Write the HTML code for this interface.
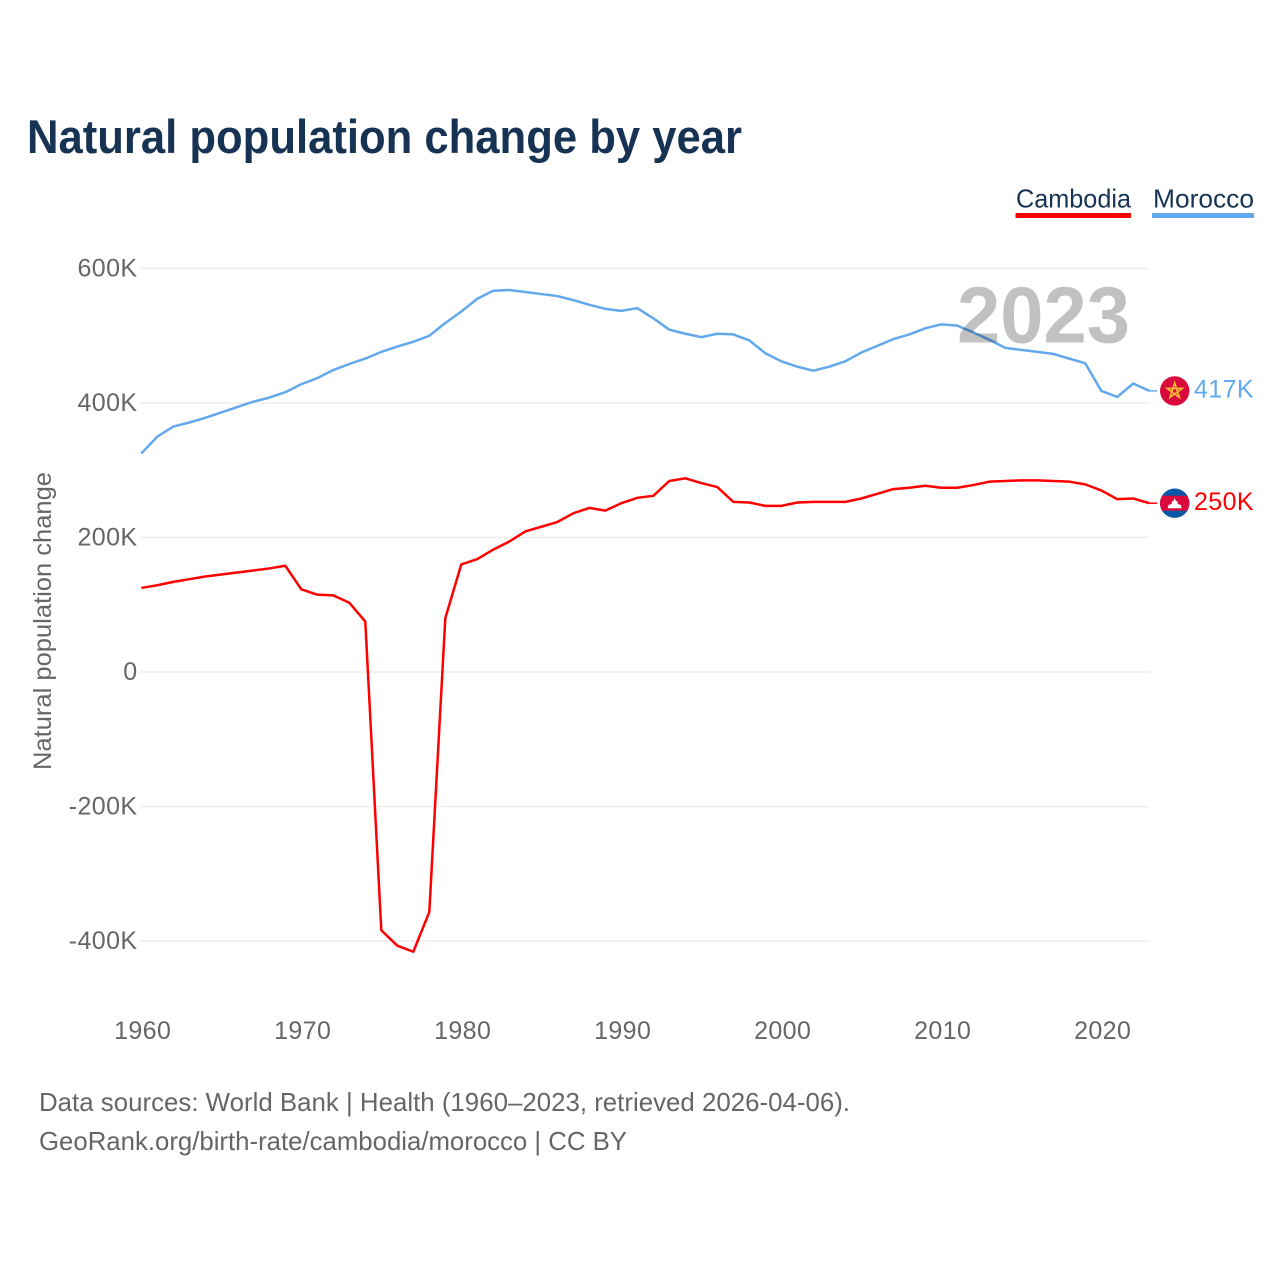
<!DOCTYPE html>
<html lang="en">
<head>
<meta charset="utf-8">
<title>Natural population change by year</title>
<style>
  html, body { margin: 0; padding: 0; background: #fff; }
  svg { display: block; font-family: "Liberation Sans", sans-serif; }
  .tick { font-size: 25px; fill: #666; letter-spacing: 0.4px; }
</style>
</head>
<body>
<svg id="chart" xmlns="http://www.w3.org/2000/svg" width="1280" height="1280" viewBox="0 0 1280 1280">
  <rect width="1280" height="1280" fill="#ffffff"/>
  <text x="27" y="153" font-size="47" font-weight="700" fill="#173353" textLength="715" lengthAdjust="spacingAndGlyphs">Natural population change by year</text>

  <g>
    <text x="1016" y="207.5" font-size="26" fill="#173353" textLength="115" lengthAdjust="spacingAndGlyphs">Cambodia</text>
    <rect x="1015.5" y="213" width="115.5" height="5" fill="#ff0000"/>
  </g>
  <g>
    <text x="1153" y="207.5" font-size="26" fill="#173353" textLength="101" lengthAdjust="spacingAndGlyphs">Morocco</text>
    <rect x="1152" y="213" width="102" height="5" fill="#62a8ec"/>
  </g>

  <text transform="translate(51,621) rotate(-90)" text-anchor="middle" font-size="25" fill="#666" textLength="298" lengthAdjust="spacingAndGlyphs">Natural population change</text>

  <g id="grid"></g>
  <g id="yTicks"></g>
  <g id="xTicks"></g>
  <g id="lines"></g>

  <text x="957" y="342.5" font-size="80" font-weight="700" fill="#000000" fill-opacity="0.243" textLength="173" lengthAdjust="spacingAndGlyphs">2023</text>

  <g id="ends"></g>

  <text x="39" y="1111" font-size="26" fill="#666" textLength="811" lengthAdjust="spacingAndGlyphs">Data sources: World Bank | Health (1960–2023, retrieved 2026-04-06).</text>
  <text x="39" y="1150" font-size="26" fill="#666" textLength="588" lengthAdjust="spacingAndGlyphs">GeoRank.org/birth-rate/cambodia/morocco | CC BY</text>
</svg>

<script>
const startYear = 1960;
const yTickValues = [600, 400, 200, 0, -200, -400];
const yTickLabels = ['600K', '400K', '200K', '0', '-200K', '-400K'];
const xTickYears = [1960, 1970, 1980, 1990, 2000, 2010, 2020];
const xTickLabels = ['1960', '1970', '1980', '1990', '2000', '2010', '2020'];

// Natural population change, thousands, 1960-2023
const cambodiaValues = [125,129,134,138,142,145,148,151,154,158,
  123,115,114,103,75,-384,-407,-416,-357,80,
  160,168,182,194,209,216,223,236,244,240,
  251,259,262,284,288,281,275,253,252,247,
  247,252,253,253,253,258,265,272,274,277,
  274,274,278,283,284,285,285,284,283,279,
  270,257,258,251];
const moroccoValues = [325,350,365,371,378,386,394,402,408,416,
  428,437,449,458,466,476,484,491,500,519,
  536,555,567,568,565,562,559,553,546,540,
  537,541,526,509,503,498,503,502,493,474,
  462,454,448,454,462,475,485,495,502,511,
  517,515,505,494,482,479,476,473,466,459,
  418,409,429,418];
const cambodiaEndLabel = '250K';
const moroccoEndLabel = '417K';

const NS = 'http://www.w3.org/2000/svg';
function xScale(year) { return 141.3 + (year - 1960) * 16; }
function yScale(v) { return 672 - v * 0.6725; }
function make(tag, parent) {
  const el = document.createElementNS(NS, tag);
  parent.appendChild(el);
  return el;
}
function linePoints(values) {
  return values.map(function (v, i) {
    return xScale(startYear + i).toFixed(2) + ',' + yScale(v).toFixed(2);
  }).join(' ');
}

const gridG = document.getElementById('grid');
const yG = document.getElementById('yTicks');
yTickValues.forEach(function (v, i) {
  const gl = make('line', gridG);
  
  
  gl.setAttribute('x1', 141);
  gl.setAttribute('x2', 1149.5);
  gl.setAttribute('y1', yScale(v));
  gl.setAttribute('y2', yScale(v));
  gl.setAttribute('stroke', '#eeeeee');
  gl.setAttribute('stroke-width', 1.4);

  const t = make('text', yG);
  
  
  t.setAttribute('class', 'tick');
  t.setAttribute('x', 137.5);
  t.setAttribute('y', yScale(v) + 8);
  t.setAttribute('text-anchor', 'end');
  t.textContent = yTickLabels[i];
});

const xG = document.getElementById('xTicks');
xTickYears.forEach(function (yr, i) {
  const t = make('text', xG);
  
  
  t.setAttribute('class', 'tick');
  t.setAttribute('x', xScale(yr) + 1.4);
  t.setAttribute('y', 1039);
  t.setAttribute('text-anchor', 'middle');
  t.textContent = xTickLabels[i];
});

const linesG = document.getElementById('lines');

const moroccoLine = make('polyline', linesG);


moroccoLine.setAttribute('points', linePoints(moroccoValues));
moroccoLine.setAttribute('fill', 'none');
moroccoLine.setAttribute('stroke', '#62a8ec');
moroccoLine.setAttribute('stroke-width', 2.5);
moroccoLine.setAttribute('stroke-linejoin', 'round');

const cambodiaLine = make('polyline', linesG);


cambodiaLine.setAttribute('points', linePoints(cambodiaValues));
cambodiaLine.setAttribute('fill', 'none');
cambodiaLine.setAttribute('stroke', '#ff0000');
cambodiaLine.setAttribute('stroke-width', 2.5);
cambodiaLine.setAttribute('stroke-linejoin', 'round');

const endsG = document.getElementById('ends');
const lastYear = startYear + moroccoValues.length - 1;
const endX = xScale(lastYear);

// Morocco end marker
const mY = yScale(moroccoValues[moroccoValues.length - 1]);
const mConn = make('line', endsG);


mConn.setAttribute('x1', endX);
mConn.setAttribute('x2', endX + 8);
mConn.setAttribute('y1', mY);
mConn.setAttribute('y2', mY);
mConn.setAttribute('stroke', '#62a8ec');
mConn.setAttribute('stroke-width', 1.5);

const mFlag = make('g', endsG);


mFlag.setAttribute('transform', 'translate(' + (endX + 25.4) + ',' + mY + ')');
mFlag.innerHTML = '<circle r="14.7" fill="#d90b3c"/>' +
  '<polygon points="0,-8 4.7,6.5 -7.6,-2.5 7.6,-2.5 -4.7,6.5" fill="none" stroke="#f9bd34" stroke-width="1.6" stroke-linejoin="miter"/>';

const mLabel = make('text', endsG);


mLabel.setAttribute('class', 'tick');
mLabel.setAttribute('style', 'fill:#62a8ec');
mLabel.setAttribute('x', endX + 44.7);
mLabel.setAttribute('y', mY + 6.6);
mLabel.textContent = moroccoEndLabel;

// Cambodia end marker
const cY = yScale(cambodiaValues[cambodiaValues.length - 1]);
const cConn = make('line', endsG);


cConn.setAttribute('x1', endX);
cConn.setAttribute('x2', endX + 8);
cConn.setAttribute('y1', cY);
cConn.setAttribute('y2', cY);
cConn.setAttribute('stroke', '#ff0000');
cConn.setAttribute('stroke-width', 1.5);

const cFlag = make('g', endsG);


cFlag.setAttribute('transform', 'translate(' + (endX + 25.4) + ',' + cY + ')');
cFlag.innerHTML = '<defs><clipPath id="cClip"><circle r="14.7"/></clipPath></defs>' +
  '<g clip-path="url(#cClip)"><rect x="-15" y="-15" width="30" height="30" fill="#0b57a8"/>' +
  '<rect x="-15" y="-7.5" width="30" height="15" fill="#dc0a3c"/></g>' +
  '<polygon points="-7,5 -6,1.5 -3.5,1 -2.5,-2 -1,-2.5 0,-5.5 1,-2.5 2.5,-2 3.5,1 6,1.5 7,5" fill="#ffffff"/>';

const cLabel = make('text', endsG);


cLabel.setAttribute('class', 'tick');
cLabel.setAttribute('style', 'fill:#ff0000');
cLabel.setAttribute('x', endX + 44.7);
cLabel.setAttribute('y', cY + 6.6);
cLabel.textContent = cambodiaEndLabel;
</script>
</body>
</html>
